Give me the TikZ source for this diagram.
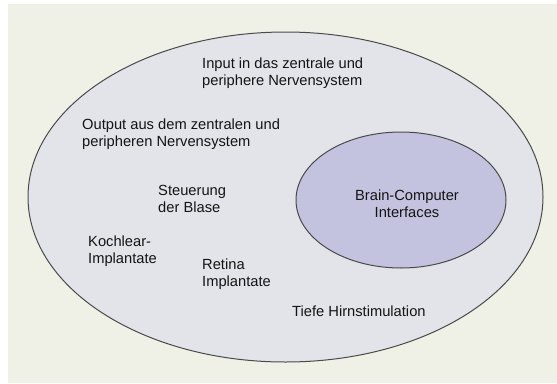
\documentclass[tikz,border=0pt]{standalone}
\usepackage{fontspec}
\setmainfont{Liberation Sans}
\definecolor{bgcream}{HTML}{F0F1E6}
\definecolor{outerfill}{HTML}{E3E4EA}
\definecolor{innerfill}{HTML}{C3C3E0}
\definecolor{rimgrey}{HTML}{4A4A4A}
\begin{document}
\begin{tikzpicture}[x=1pt,y=-1pt,
  lbl/.style={anchor=north west,align=left,inner sep=0pt,font=\fontsize{14.7}{16.7}\selectfont,text=black!92},
  clbl/.style={align=center,inner sep=0pt,font=\fontsize{14.7}{16.7}\selectfont,text=black!92},
  rim/.style={draw=rimgrey,line width=1pt}]
\useasboundingbox (0,0) rectangle (557,383);
\fill[white] (0,0) rectangle (557,383);
\fill[bgcream] (8,4) rectangle (557,383);
\draw[rim,fill=outerfill] (285.5,197) ellipse [x radius=257.5,y radius=165];
\draw[rim,fill=innerfill] (401,200) ellipse [x radius=105,y radius=68];
\node[lbl] (inp) at (202,58) {Input in das zentrale und\\periphere Nervensystem};
\node[lbl] (outp) at (82,119) {Output aus dem zentralen und\\peripheren Nervensystem};
\node[lbl] (blase) at (158,185) {Steuerung\\der Blase};
\node[lbl] (koch) at (88,236) {Kochlear-\\Implantate};
\node[lbl] (ret) at (202,259) {Retina\\Implantate};
\node[lbl] (tiefe) at (292,306) {Tiefe Hirnstimulation};
\node[clbl] (bci) at (407,204) {Brain-Computer\\Interfaces};
\end{tikzpicture}
\end{document}
